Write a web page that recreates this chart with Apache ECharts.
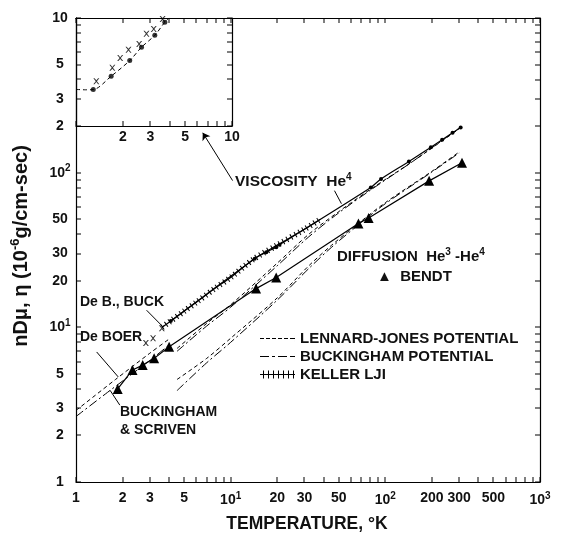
<!DOCTYPE html>
<html><head><meta charset="utf-8">
<script src="https://cdn.jsdelivr.net/npm/echarts@6/dist/echarts.min.js"></script>
<style>html,body{margin:0;padding:0;background:#fff}#c{width:568px;height:533px}</style>
</head><body><div id="c"></div>
<script>
// ---------- tick values / labels ----------
const mainXLabels = [1, 2, 3, 5, 10, 20, 30, 50, 100, 200, 300, 500, 1000];
const mainYLabels = [1, 2, 3, 5, 10, 20, 30, 50, 100];
const mainTicks = [1,2,3,4,5,6,7,8,9,10,20,30,40,50,60,70,80,90,100,200,300,400,500,600,700,800,900,1000];
const insetXLabels = [2, 3, 5, 10];
const insetYLabels = [2, 3, 5, 10];
const insetXTicks = [1,2,3,4,5,6,7,8,9,10];
const insetYTicks = [2,3,4,5,6,7,8,9,10];

// ---------- viscosity He4 ----------
const viscT = [4.1, 14.3, 17, 19.7, 20.7, 80.6, 93.8, 142, 197, 233, 272, 307];
const viscV = [11, 27.8, 30.6, 33, 34.2, 80.3, 91, 118, 146, 163, 181, 196];
const kellerT = [3.6, 4, 5, 6, 8, 10, 14, 20, 30, 38];
const kellerV = [10, 10.8, 12.7, 14.5, 18, 21, 27.5, 34, 43, 50];
const viscLJT = [4.5, 7, 10, 20, 32, 50, 80, 150, 300];
const viscLJV = [7.3, 10.6, 14, 26, 40, 56, 78, 118, 192];
const viscBKT = [4.5, 7, 10, 20, 32, 50, 80, 150, 300];
const viscBKV = [7.0, 10.2, 13.5, 25, 38.5, 55, 77, 118, 194];
const crossT = [2.83, 3.15, 3.59];
const crossV = [7.92, 8.5, 9.85];

// ---------- diffusion He3-He4 ----------
const diffT = [1.86, 2.32, 2.7, 3.2, 4.0, 14.6, 19.7, 67, 78, 192, 313];
const diffV = [4.0, 5.3, 5.7, 6.3, 7.5, 17.8, 21, 47, 51, 88.5, 116];
const diffLJT = [4.5, 7, 10, 20, 32, 45, 67, 100, 200, 300];
const diffLJV = [4.6, 6.3, 8.5, 15.5, 25, 34, 47, 64, 102, 136];
const diffBKT = [4.5, 7, 10, 20, 32, 45, 67, 100, 200, 300];
const diffBKV = [3.9, 5.9, 8.0, 15, 24, 33, 46, 63, 101, 134];
const deBoerT = [1, 1.8, 3, 4];
const deBoerV = [2.9, 4.6, 6.8, 8.4];
const buckScrT = [1, 1.6, 3, 4];
const buckScrV = [2.65, 3.8, 6.1, 7.7];

// ---------- inset (viscosity, low T) ----------
const insetCurveT = [1, 1.15, 1.29, 1.68, 2.21, 2.63, 3.2, 3.71, 3.95];
const insetCurveV = [3.45, 3.43, 3.44, 4.2, 5.3, 6.47, 7.73, 9.4, 10];
const insetDotT = [1.29, 1.68, 2.21, 2.63, 3.2, 3.71];
const insetDotV = [3.44, 4.2, 5.3, 6.47, 7.73, 9.4];
const insetCrossT = [1.35, 1.71, 1.92, 2.17, 2.54, 2.83, 3.15, 3.59];
const insetCrossV = [3.9, 4.76, 5.5, 6.24, 6.8, 7.92, 8.5, 9.85];

const zip = (a, b) => a.map((v, i) => [v, b[i]]);
const FONT = 'Liberation Sans';
const INK = '#111';
const crossSym = 'path://M0,0L2,0L5,3.5L8,0L10,0L6,5L10,10L8,10L5,6.5L2,10L0,10L4,5Z';
const kellerIcon = 'path://M0,3.5h35v1h-35z M3,0h1v8h-1z M8,0h1v8h-1z M13,0h1v8h-1z M18,0h1v8h-1z M23,0h1v8h-1z M28,0h1v8h-1z M33,0h1v8h-1z';
const ljIcon = 'path://M0,0h0.01v8h-0.01z M0,3.5h4v1h-4z M6,3.5h4v1h-4z M12,3.5h4v1h-4z M18,3.5h4v1h-4z M24,3.5h4v1h-4z M30,3.5h5v1h-5z M34.99,0h0.01v8h-0.01z';
const bkIcon = 'path://M0,0h0.01v8h-0.01z M0,3.5h9v1h-9z M12,3.5h3v1h-3z M18,3.5h9v1h-9z M30,3.5h5v1h-5z M34.99,0h0.01v8h-0.01z';
const DASH = [4, 3];
const DASHDOT = [9, 3, 2, 3];
const TL = 5;

function powFmt(v) {
  const e = Math.log10(v), r = Math.round(e);
  if (Math.abs(e - r) < 1e-6 && r >= 1) return '10{s|' + r + '}';
  return String(Math.round(v));
}
const labelRich = { s: { fontSize: 10, fontFamily: FONT, fontWeight: 'bold', color: INK, padding: [0, 0, 8, 0] } };

function axis(o) {
  return {
    type: 'log', logBase: 10, gridIndex: o.grid, position: o.pos, min: o.min, max: o.max,
    axisLine: { show: true, onZero: false, lineStyle: { color: '#000', width: 1.2 } },
    axisTick: { show: false },
    axisLabel: o.labels ? {
      show: true, customValues: o.labels, formatter: o.fmt || powFmt, rich: labelRich,
      fontFamily: FONT, fontSize: 14, fontWeight: 'bold', color: INK, margin: o.margin || 8, align: o.align
    } : { show: false },
    splitLine: { show: false }
  };
}

// tick marks drawn by custom series: positions come from the log axes via api.coord
const tickRect = (x, y, w, h) => ({ type: 'rect', shape: { x: x, y: y, width: w, height: h }, style: { fill: '#000' } });
function tickSeries(axisIdx, data, render) {
  return { type: 'custom', xAxisIndex: axisIdx, yAxisIndex: axisIdx, silent: true, clip: false, z: 10, data: data, renderItem: render };
}
const mainXTickSeries = tickSeries(0, mainTicks.map(v => [v, 1]), (p, api) => {
  const v = api.value(0), b = api.coord([v, 1]), t = api.coord([v, 1000]);
  const x = Math.round(b[0]) - 0.5;
  return { type: 'group', children: [tickRect(x, b[1] - TL, 1, TL), tickRect(x, t[1], 1, TL)] };
});
const mainYTickSeries = tickSeries(0, mainTicks.map(v => [1, v]), (p, api) => {
  const v = api.value(1), l = api.coord([1, v]), r = api.coord([1000, v]);
  const y = Math.round(l[1]) - 0.5;
  const ch = [tickRect(r[0] - TL, y, TL, 1)];
  if (v <= 100) ch.push(tickRect(l[0], y, TL, 1));
  return { type: 'group', children: ch };
});
const insetXTickSeries = tickSeries(2, insetXTicks.map(v => [v, 2]), (p, api) => {
  const v = api.value(0), b = api.coord([v, 2]);
  return tickRect(Math.round(b[0]) - 0.5, b[1] - TL, 1, TL);
});
const insetYTickSeries = tickSeries(2, insetYTicks.map(v => [1, v]), (p, api) => {
  const v = api.value(1), l = api.coord([1, v]), r = api.coord([10, v]);
  const y = Math.round(l[1]) - 0.5;
  return { type: 'group', children: [tickRect(l[0], y, TL, 1), tickRect(r[0] - TL, y, TL, 1)] };
});

const chart = echarts.init(document.getElementById('c'), null, { renderer: 'canvas' });
const lineBase = { type: 'line', symbol: 'none', silent: true, smooth: 0.3, color: '#000' };
const txt = (x, y, text, extra) => ({ type: 'text', x: x, y: y, silent: true, style: Object.assign({ text: text, fontFamily: FONT, fontSize: 14, fontWeight: 'bold', fill: INK, verticalAlign: 'middle' }, extra || {}) });
const supRich = { a: { fontSize: 10, fontFamily: FONT, fontWeight: 'bold', fill: INK, padding: [0, 0, 9, 0] } };

chart.setOption({
  animation: false,
  backgroundColor: '#fff',
  grid: [
    { left: 76, top: 18, width: 464, height: 464 },
    { left: 76, top: 18, width: 156, height: 108, z: 5 }
  ],
  xAxis: [
    axis({ grid: 0, pos: 'bottom', min: 1, max: 1000, labels: mainXLabels, margin: 9 }),
    axis({ grid: 0, pos: 'top', min: 1, max: 1000 }),
    axis({ grid: 1, pos: 'bottom', min: 1, max: 10, labels: insetXLabels, fmt: v => String(Math.round(v)), margin: 4 }),
    axis({ grid: 1, pos: 'top', min: 1, max: 10 })
  ],
  yAxis: [
    axis({ grid: 0, pos: 'left', min: 1, max: 1000, labels: mainYLabels, margin: 16, align: 'center' }),
    axis({ grid: 0, pos: 'right', min: 1, max: 1000 }),
    axis({ grid: 1, pos: 'left', min: 2, max: 10, labels: insetYLabels, fmt: v => String(Math.round(v)), margin: 16, align: 'center' }),
    axis({ grid: 1, pos: 'right', min: 2, max: 10 })
  ],
  legend: {
    left: 255, top: 326, orient: 'vertical', itemWidth: 35, itemHeight: 8, itemGap: 3,
    selectedMode: false, textStyle: { fontFamily: FONT, fontSize: 15, fontWeight: 'bold', color: INK },
    data: [
      { name: 'LENNARD-JONES POTENTIAL', icon: ljIcon },
      { name: 'BUCKINGHAM POTENTIAL', icon: bkIcon },
      { name: 'KELLER LJI', icon: kellerIcon }
    ]
  },
  series: [
    Object.assign({}, lineBase, { name: 'LENNARD-JONES POTENTIAL', data: zip(viscLJT, viscLJV), lineStyle: { color: '#000', width: 1, type: DASH } }),
    Object.assign({}, lineBase, { name: 'BUCKINGHAM POTENTIAL', data: zip(viscBKT, viscBKV), lineStyle: { color: '#000', width: 1, type: DASHDOT } }),
    Object.assign({}, lineBase, { name: 'KELLER LJI', data: zip(kellerT, kellerV), lineStyle: { color: '#000', width: 6, type: [1, 3.5], cap: 'butt' } }),
    Object.assign({}, lineBase, { name: 'keller-line', data: zip(kellerT, kellerV), lineStyle: { color: '#000', width: 1.2 } }),
    Object.assign({}, lineBase, { name: 'LENNARD-JONES POTENTIAL', data: zip(diffLJT, diffLJV), lineStyle: { color: '#000', width: 1, type: DASH } }),
    Object.assign({}, lineBase, { name: 'BUCKINGHAM POTENTIAL', data: zip(diffBKT, diffBKV), lineStyle: { color: '#000', width: 1, type: DASHDOT } }),
    Object.assign({}, lineBase, { name: 'De Boer', data: zip(deBoerT, deBoerV), lineStyle: { color: '#000', width: 1, type: DASH } }),
    Object.assign({}, lineBase, { name: 'Buckingham & Scriven', data: zip(buckScrT, buckScrV), lineStyle: { color: '#000', width: 1, type: DASHDOT } }),
    {
      type: 'line', name: 'Viscosity He4', silent: true, smooth: 0.3, color: '#000',
      data: zip(viscT, viscV), symbol: 'circle', symbolSize: 4,
      itemStyle: { color: '#000' }, lineStyle: { color: '#000', width: 1.2 },
      markLine: {
        silent: true, symbol: ['none', 'none'], label: { show: false },
        lineStyle: { color: '#000', width: 1, type: 'solid' },
        data: [
          [{ coord: [46.9, 76.5] }, { coord: [52, 63] }],
          [{ coord: [10.29, 88.9] }, { coord: [6.6, 181], symbol: 'arrow', symbolSize: 7 }],
          [{ coord: [2.86, 12.9] }, { coord: [3.66, 10.05] }],
          [{ coord: [1.36, 6.93] }, { coord: [1.875, 4.78] }],
          [{ coord: [1.92, 3.14] }, { coord: [1.66, 3.92] }]
        ]
      }
    },
    {
      type: 'line', name: 'Diffusion Bendt', silent: true, color: '#000',
      data: zip(diffT, diffV), symbol: 'triangle', symbolSize: 10,
      itemStyle: { color: '#000' }, lineStyle: { color: '#000', width: 1.2 }
    },
    {
      type: 'scatter', name: 'De Boer visc', silent: true, data: zip(crossT, crossV),
      symbol: crossSym, symbolSize: 6, itemStyle: { color: '#000' }
    },
    Object.assign({}, lineBase, { name: 'inset-curve', xAxisIndex: 2, yAxisIndex: 2, data: zip(insetCurveT, insetCurveV), lineStyle: { color: '#000', width: 1, type: DASH } }),
    {
      type: 'scatter', name: 'inset-dots', xAxisIndex: 2, yAxisIndex: 2, silent: true,
      data: zip(insetDotT, insetDotV), symbol: 'circle', symbolSize: 5, itemStyle: { color: '#000' }
    },
    {
      type: 'scatter', name: 'inset-cross', xAxisIndex: 2, yAxisIndex: 2, silent: true,
      data: zip(insetCrossT, insetCrossV), symbol: crossSym, symbolSize: 6, itemStyle: { color: '#000' }
    },
    mainXTickSeries, mainYTickSeries, insetXTickSeries, insetYTickSeries
  ],
  graphic: [
    txt(235, 182, 'VISCOSITY  He{a|4}', { fontSize: 15.5, rich: supRich }),
    txt(337, 257, 'DIFFUSION  He{a|3} -He{a|4}', { fontSize: 15, rich: supRich }),
    txt(377, 277, '\u25B2  BENDT', { fontSize: 15 }),
    txt(80, 302, 'De B., BUCK'),
    txt(80, 337, 'De BOER'),
    txt(120, 412, 'BUCKINGHAM'),
    txt(120, 430, '& SCRIVEN'),
    txt(307, 524, 'TEMPERATURE, \u00B0K', { fontSize: 17.5, align: 'center' }),
    { type: 'text', x: 21, y: 246, rotation: Math.PI / 2, silent: true, style: { text: 'nD\u03BC, \u03B7 (10{a|-6}g/cm-sec)', fontFamily: FONT, fontSize: 20, fontWeight: 'bold', fill: INK, align: 'center', verticalAlign: 'middle', rich: { a: { fontSize: 13, fontFamily: FONT, fontWeight: 'bold', fill: INK, padding: [0, 0, 11, 0] } } } }
  ]
});
</script>
</body></html>
